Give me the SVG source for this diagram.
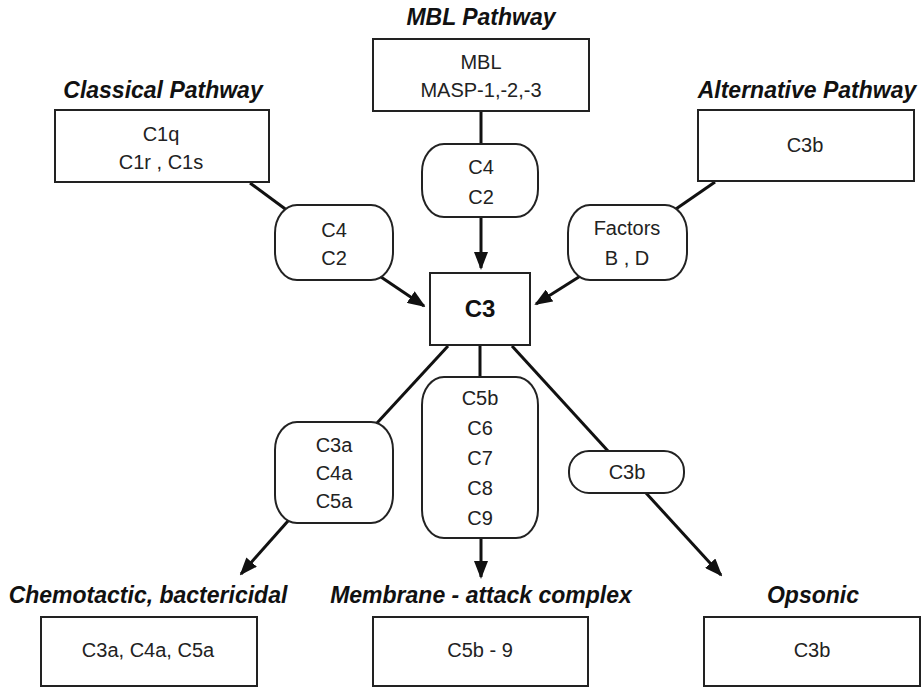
<svg xmlns="http://www.w3.org/2000/svg" width="923" height="687" viewBox="0 0 923 687">
<style>
.box{fill:#fff;stroke:#222;stroke-width:2}
.t{font-family:"Liberation Sans",Arial,sans-serif;font-size:20px;fill:#222;text-anchor:middle}
.b{font-family:"Liberation Sans",Arial,sans-serif;font-size:24px;font-weight:bold;fill:#111;text-anchor:middle}
.h{font-family:"Liberation Sans",Arial,sans-serif;font-size:23px;font-weight:bold;font-style:italic;fill:#111;text-anchor:middle}
.ln{stroke:#111;stroke-width:3;fill:none}
.ar{marker-end:url(#ah)}
</style>
<defs>
<marker id="ah" viewBox="0 0 18 14" refX="16" refY="7" markerWidth="18" markerHeight="14" orient="auto" markerUnits="userSpaceOnUse">
<path d="M0,0 L18,7 L0,14 Z" fill="#111"/>
</marker>
</defs>
<rect width="923" height="687" fill="#fff"/>
<g id="connectors">
<line class="ln" x1="481" y1="111" x2="481" y2="144"/>
<line class="ln ar" x1="481" y1="217" x2="481" y2="268"/>
<line class="ln" x1="250" y1="183" x2="288" y2="211"/>
<line class="ln ar" x1="378" y1="275" x2="424" y2="306"/>
<line class="ln" x1="715" y1="182" x2="673" y2="211"/>
<line class="ln ar" x1="582" y1="275" x2="536" y2="304"/>
<line class="ln" x1="448" y1="346" x2="377" y2="423"/>
<line class="ln" x1="480" y1="345" x2="480" y2="377"/>
<line class="ln" x1="512" y1="346" x2="608" y2="451"/>
<line class="ln ar" x1="288" y1="521" x2="241" y2="574"/>
<line class="ln ar" x1="481" y1="538" x2="481" y2="577"/>
<line class="ln ar" x1="646" y1="493" x2="721" y2="575"/>
</g>
<g id="title-mbl"><text class="h" x="481" y="25">MBL Pathway</text></g>
<g id="title-classical"><text class="h" x="163" y="98">Classical Pathway</text></g>
<g id="title-alternative"><text class="h" x="807" y="98">Alternative Pathway</text></g>
<g id="mbl">
<rect class="box" x="373" y="39" width="216" height="72"/>
<text class="t" x="481" y="69">MBL</text>
<text class="t" x="481" y="97">MASP-1,-2,-3</text>
</g>
<g id="classical">
<rect class="box" x="55" y="110" width="214" height="72"/>
<text class="t" x="161" y="141">C1q</text>
<text class="t" x="161" y="169">C1r , C1s</text>
</g>
<g id="alternative">
<rect class="box" x="698" y="110" width="216" height="71"/>
<text class="t" x="805" y="152">C3b</text>
</g>
<g id="mbl-c4c2">
<rect class="box" x="422" y="144" width="116" height="73" rx="22" ry="28"/>
<text class="t" x="481" y="174">C4</text>
<text class="t" x="481" y="204">C2</text>
</g>
<g id="classical-c4c2">
<rect class="box" x="275" y="205" width="118" height="75" rx="22" ry="28"/>
<text class="t" x="334" y="237">C4</text>
<text class="t" x="334" y="265">C2</text>
</g>
<g id="factors">
<rect class="box" x="568" y="205" width="119" height="75" rx="22" ry="28"/>
<text class="t" x="627" y="235">Factors</text>
<text class="t" x="627" y="265">B , D</text>
</g>
<g id="c3">
<rect class="box" x="430" y="273" width="100" height="72"/>
<text class="b" x="480" y="317">C3</text>
</g>
<g id="c3a-c4a-c5a">
<rect class="box" x="275" y="422" width="118" height="101" rx="22" ry="28"/>
<text class="t" x="334" y="452">C3a</text>
<text class="t" x="334" y="480">C4a</text>
<text class="t" x="334" y="508">C5a</text>
</g>
<g id="c5b-c9">
<rect class="box" x="422" y="377" width="116" height="161" rx="22" ry="28"/>
<text class="t" x="480" y="405">C5b</text>
<text class="t" x="480" y="435">C6</text>
<text class="t" x="480" y="465">C7</text>
<text class="t" x="480" y="495">C8</text>
<text class="t" x="480" y="525">C9</text>
</g>
<g id="c3b-pill">
<rect class="box" x="569" y="451" width="115" height="42" rx="20" ry="20"/>
<text class="t" x="627" y="479">C3b</text>
</g>
<g id="title-chemotactic"><text class="h" x="148" y="603">Chemotactic, bactericidal</text></g>
<g id="title-membrane"><text class="h" x="481" y="603">Membrane - attack complex</text></g>
<g id="title-opsonic"><text class="h" x="813" y="603">Opsonic</text></g>
<g id="chemotactic">
<rect class="box" x="41" y="617" width="216" height="69"/>
<text class="t" x="148" y="657">C3a, C4a, C5a</text>
</g>
<g id="membrane">
<rect class="box" x="373" y="617" width="215" height="69"/>
<text class="t" x="480" y="657">C5b - 9</text>
</g>
<g id="opsonic">
<rect class="box" x="704" y="617" width="216" height="69"/>
<text class="t" x="812" y="657">C3b</text>
</g>
</svg>
